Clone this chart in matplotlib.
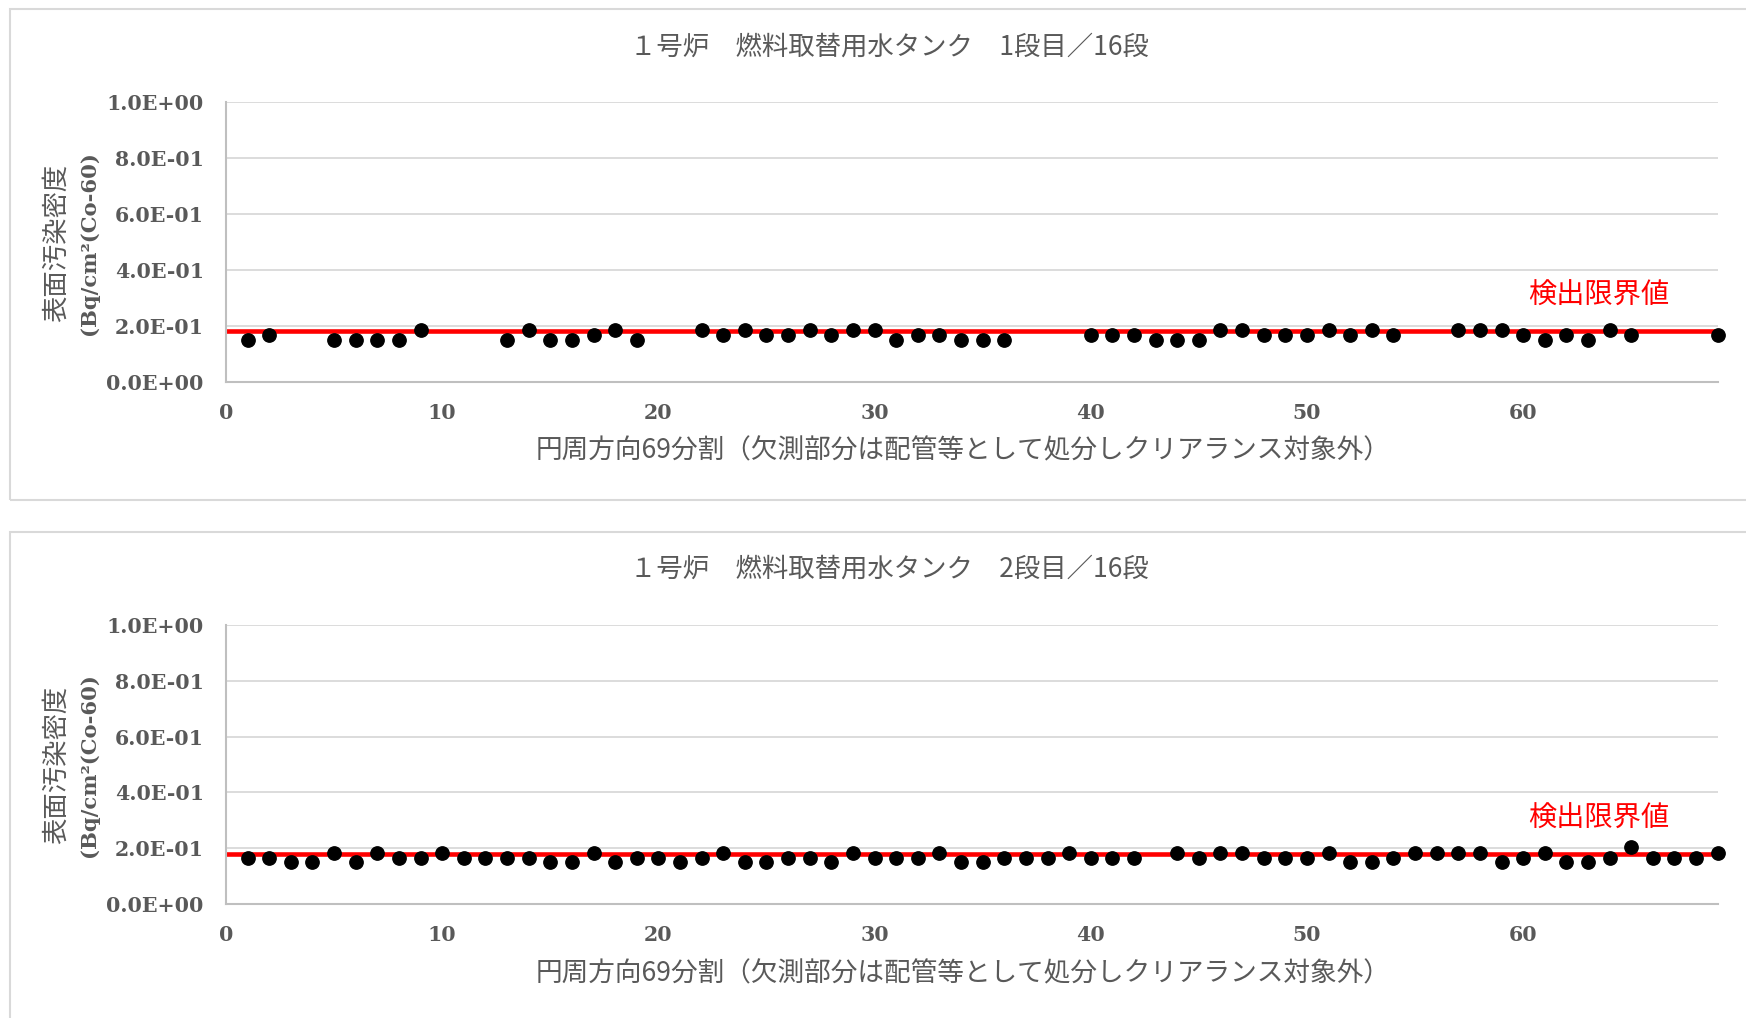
import numpy as np
import matplotlib.pyplot as plt
from matplotlib.patches import Rectangle

plt.rcParams['font.family'] = ['Noto Sans CJK JP', 'DejaVu Sans']

# measurement positions around the circumference (69 divisions)
positions = np.arange(1, 70)

# stage 1 of 16, None = missing (piping etc.)
stage1 = [0.150, 0.167, None, None, 0.150, 0.150, 0.150, 0.150, 0.184, None,
          None, None, 0.150, 0.184, 0.150, 0.150, 0.167, 0.184, 0.150, None,
          None, 0.184, 0.167, 0.184, 0.167, 0.167, 0.184, 0.167, 0.184, 0.184,
          0.150, 0.167, 0.167, 0.150, 0.150, 0.150, None, None, None, 0.167,
          0.167, 0.167, 0.150, 0.150, 0.150, 0.184, 0.184, 0.167, 0.167, 0.167,
          0.184, 0.167, 0.184, 0.167, None, None, 0.184, 0.184, 0.184, 0.167,
          0.150, 0.167, 0.150, 0.184, 0.167, None, None, None, 0.167]

# stage 2 of 16
stage2 = [0.167, 0.167, 0.150, 0.150, 0.184, 0.150, 0.184, 0.167, 0.167, 0.184,
          0.167, 0.167, 0.167, 0.167, 0.150, 0.150, 0.184, 0.150, 0.167, 0.167,
          0.150, 0.167, 0.184, 0.150, 0.150, 0.167, 0.167, 0.150, 0.184, 0.167,
          0.167, 0.167, 0.184, 0.150, 0.150, 0.167, 0.167, 0.167, 0.184, 0.167,
          0.167, 0.167, None, 0.184, 0.167, 0.184, 0.184, 0.167, 0.167, 0.167,
          0.184, 0.150, 0.150, 0.167, 0.184, 0.184, 0.184, 0.184, 0.150, 0.167,
          0.184, 0.150, 0.150, 0.167, 0.204, 0.167, 0.167, 0.167, 0.184]

detection_limit = [0.181, 0.179]

titles = ['１号炉　燃料取替用水タンク　1段目／16段',
          '１号炉　燃料取替用水タンク　2段目／16段']
xlabel = '円周方向69分割（欠測部分は配管等として処分しクリアランス対象外）'
ylabel_jp = '表面汚染密度'
ylabel_unit = '(Bq/cm²(Co-60)'
limit_label = '検出限界値'

yticks = [0.0, 0.2, 0.4, 0.6, 0.8, 1.0]
xticks = [0, 10, 20, 30, 40, 50, 60]

GRAY = '#595959'
W, H = 1746, 1018

fig = plt.figure(figsize=(W / 100, H / 100), dpi=100)

# panel frames: (top, bottom) in pixels
panels = [(9.5, 500.5), (531.5, 1030)]
for top, bot in panels:
    fig.patches.append(Rectangle((9.5 / W, 1 - bot / H), 1.2, (bot - top) / H,
                                 transform=fig.transFigure, fill=False,
                                 edgecolor='#d9d9d9', lw=1.5))

# axes areas in pixels: (top, bottom)
areas = [(101.7, 381.7), (624.8, 904.2)]
left, right = 226, 1717.7

for i, (series, (top, bot)) in enumerate(zip([stage1, stage2], areas)):
    ax = fig.add_axes([left / W, 1 - bot / H, (right - left) / W, (bot - top) / H])
    vals = np.array([np.nan if v is None else v for v in series], dtype=float)

    ax.set_xlim(0, 69)
    ax.set_ylim(0, 1.0)
    ax.set_yticks(yticks)
    ax.set_yticklabels([f'{t:.1E}' for t in yticks])
    ax.set_xticks(xticks)
    ax.grid(axis='y', color='#d9d9d9', lw=1.3)
    ax.set_axisbelow(True)
    for s in ['top', 'right']:
        ax.spines[s].set_visible(False)
    for s in ['left', 'bottom']:
        ax.spines[s].set_color('#bfbfbf')
        ax.spines[s].set_linewidth(1.5)
    ax.tick_params(length=0, labelcolor=GRAY)
    ax.tick_params(axis='y', pad=16)
    ax.tick_params(axis='x', pad=15)
    for lab in ax.get_xticklabels() + ax.get_yticklabels():
        lab.set_fontfamily('DejaVu Serif')
        lab.set_fontweight('bold')
        lab.set_fontsize(14.8)

    ax.axhline(detection_limit[i], color='#ff0000', lw=3.3, zorder=2)
    ax.plot(positions, vals, 'o', color='black', ms=9.6, zorder=3, clip_on=False)

    ax.text(0.92, detection_limit[i] + 0.125, limit_label, color='#ff0000',
            fontsize=20.3, ha='center', va='center',
            transform=ax.get_yaxis_transform())

    # title, axis labels
    ty = [46.8, 569][i]
    fig.text(889 / W, 1 - ty / H, titles[i], fontsize=19, color=GRAY,
             ha='center', va='center')
    xy = [451, 974][i]
    fig.text(963 / W, 1 - xy / H, xlabel, fontsize=19.2, color=GRAY,
             ha='center', va='center')
    yc = [243, 765][i]
    fig.text(56 / W, 1 - yc / H, ylabel_jp, fontsize=19, color=GRAY,
             rotation=90, ha='center', va='center')
    fig.text(89 / W, 1 - yc / H, ylabel_unit, fontsize=15.2, color=GRAY,
             rotation=90, ha='center', va='center', family='DejaVu Serif',
             fontweight='bold')

fig.savefig('out.png', dpi=100)
